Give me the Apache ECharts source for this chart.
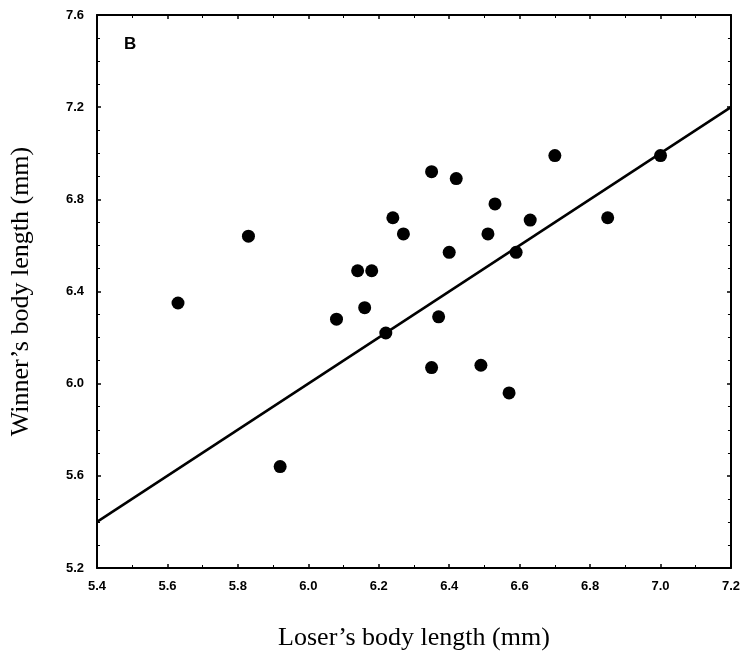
<!DOCTYPE html>
<html>
<head>
<meta charset="utf-8">
<script src="https://cdn.jsdelivr.net/npm/echarts@6/dist/echarts.min.js"></script>
<style>html,body{margin:0;padding:0;background:#fff;}#c{width:743px;height:656px;}</style>
</head>
<body>
<div id="c"></div>
<script>
const loserLength = [5.63, 5.83, 5.92, 6.08, 6.14, 6.18, 6.16, 6.22, 6.24, 6.27, 6.35, 6.42, 6.40, 6.37, 6.35, 6.49, 6.57, 6.70, 7.00, 6.85, 6.53, 6.63, 6.51, 6.59];
const winnerLength = [6.35, 6.64, 5.64, 6.28, 6.49, 6.49, 6.33, 6.22, 6.72, 6.65, 6.92, 6.89, 6.57, 6.29, 6.07, 6.08, 5.96, 6.99, 6.99, 6.72, 6.78, 6.71, 6.65, 6.57];
const lineX = [5.4, 7.2];
const lineY = [5.4, 7.2];
const xTicks = [5.4, 5.6, 5.8, 6.0, 6.2, 6.4, 6.6, 6.8, 7.0, 7.2];
const yTicks = [5.2, 5.6, 6.0, 6.4, 6.8, 7.2, 7.6];
const panelLabel = 'B';
const xTitle = 'Loser\u2019s body length (mm)';
const yTitle = 'Winner\u2019s body length (mm)';

const points = loserLength.map((x, i) => [x, winnerLength[i]]);
const lineData = lineX.map((x, i) => [x, lineY[i]]);

const chart = echarts.init(document.getElementById('c'), null, {renderer: 'canvas'});
const tickFont = {fontFamily: 'Liberation Sans, Arial, sans-serif', fontWeight: 'bold', fontSize: 13, color: '#000'};
const axisCommon = {
  axisLine: {show: true, onZero: false, lineStyle: {color: '#000', width: 2}},
  axisTick: {show: true, inside: true, length: 4, lineStyle: {color: '#000', width: 1.5}},
  minorTick: {show: true, splitNumber: 2, length: 3, lineStyle: {color: '#000', width: 1}},
  splitLine: {show: false}
};
chart.setOption({
  animation: false,
  backgroundColor: '#fff',
  grid: {left: 95, right: 9, top: 15, bottom: 85, containLabel: false},
  xAxis: [
    Object.assign({}, axisCommon, {
      type: 'value', min: xTicks[0], max: xTicks[xTicks.length - 1], interval: 0.2, position: 'bottom',
      axisLabel: Object.assign({margin: 12, formatter: v => v.toFixed(1)}, tickFont),
      name: xTitle, nameLocation: 'middle', nameGap: 57,
      nameTextStyle: {fontFamily: 'Liberation Serif, Times New Roman, serif', fontSize: 26, color: '#000'}
    }),
    Object.assign({}, axisCommon, {
      type: 'value', min: xTicks[0], max: xTicks[xTicks.length - 1], interval: 0.2, position: 'top',
      axisLabel: {show: false}
    })
  ],
  yAxis: [
    Object.assign({}, axisCommon, {
      type: 'value', min: yTicks[0], max: yTicks[yTicks.length - 1], interval: 0.4, position: 'left',
      minorTick: {show: true, splitNumber: 4, length: 3, lineStyle: {color: '#000', width: 1}},
      axisLabel: Object.assign({margin: 13, formatter: v => v.toFixed(1)}, tickFont),
      name: yTitle, nameLocation: 'middle', nameGap: 63, nameRotate: 90,
      nameTextStyle: {fontFamily: 'Liberation Serif, Times New Roman, serif', fontSize: 26, color: '#000'}
    }),
    Object.assign({}, axisCommon, {
      type: 'value', min: yTicks[0], max: yTicks[yTicks.length - 1], interval: 0.4, position: 'right',
      minorTick: {show: true, splitNumber: 4, length: 3, lineStyle: {color: '#000', width: 1}},
      axisLabel: {show: false}
    })
  ],
  graphic: [{
    type: 'text', left: 124, top: 36,
    style: {text: panelLabel, font: 'bold 17px Liberation Sans, Arial, sans-serif', fill: '#000'}
  }],
  series: [
    {
      type: 'line', data: lineData, symbol: 'none', silent: true,
      lineStyle: {color: '#000', width: 2.5}, z: 2
    },
    {
      type: 'scatter', data: points, symbol: 'circle', symbolSize: 13,
      itemStyle: {color: '#000', opacity: 1}, z: 3
    }
  ]
});
</script>
</body>
</html>
